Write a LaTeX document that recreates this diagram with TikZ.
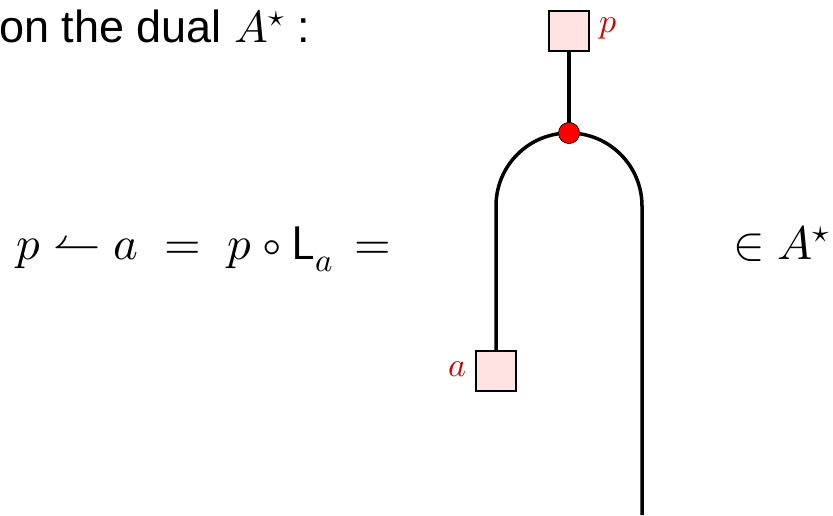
\documentclass[tikz,border=0pt]{standalone}
\usepackage{fontspec}
\setmainfont{Liberation Sans}
\usepackage{unicode-math}
\setmathfont{Latin Modern Math}
\begin{document}
\begin{tikzpicture}[x=1pt,y=1pt,
  wire/.style={line width=3.5pt},
  tbox/.style={draw=black,line width=1.3pt,fill=red!11,minimum size=40pt,inner sep=0pt},
  lbl/.style={text=red!85!black,font=\fontsize{34}{40}\selectfont},
  big/.style={font=\fontsize{45}{50}\selectfont,inner sep=0pt},
  bigm/.style={font=\fontsize{47}{52}\selectfont,inner sep=0pt},
  dot/.style={circle,draw=black,line width=0.5pt,fill=red,minimum size=21pt,inner sep=0pt}]
\useasboundingbox (0,0) rectangle (833,515);
\node[big,anchor=base west] (title) at (-1,472) {on the dual $A^{\star}$ :};
\node[bigm,anchor=base west] (eq) at (16,255) {$p \leftharpoonup a \;=\; p\circ \textsf{L}_a \hspace{8pt}=$};
\node[bigm,anchor=base west] (in) at (733,255) {$\in A^{\star}$};
\node[tbox] (p) at (569,484) {};
\node[lbl,anchor=west] (pl) at (596,487) {$p$};
\node[dot] (m) at (569,382) {};
\coordinate (L) at (496,309);
\coordinate (R) at (642,309);
\coordinate (B) at (642,0);
\node[tbox] (a) at (496,144) {};
\node[lbl,anchor=east] (al) at (470,146) {$a$};
\draw[wire] (p) -- (m.center);
\draw[wire] (a.north) -- (L) arc[start angle=180,end angle=0,radius=73] -- (B);
\node[dot] at (m) {};
\end{tikzpicture}
\end{document}
